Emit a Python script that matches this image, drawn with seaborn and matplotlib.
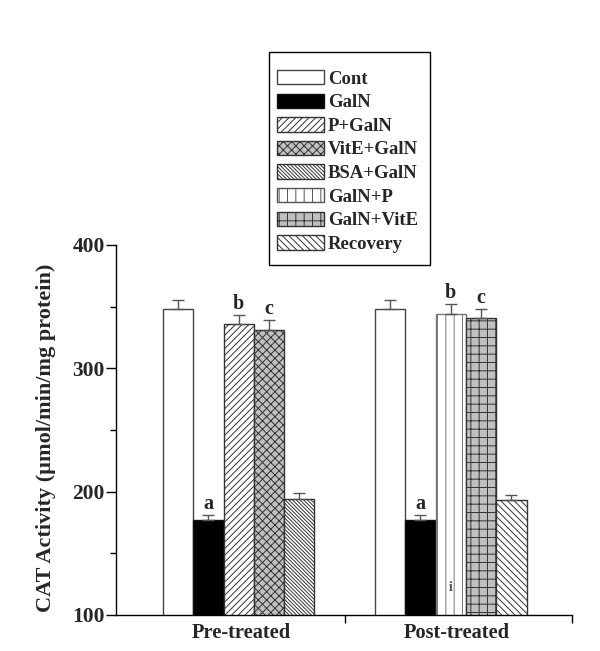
import matplotlib
matplotlib.use("Agg")
import matplotlib.pyplot as plt
import seaborn as sns
import pandas as pd
from matplotlib.patches import Patch, Rectangle

# ---- data ----
groups = ["Pre-treated", "Post-treated"]
series = ["Cont", "GalN", "P+GalN", "VitE+GalN", "BSA+GalN", "GalN+P", "GalN+VitE", "Recovery"]
pre_series = ["Cont", "GalN", "P+GalN", "VitE+GalN", "BSA+GalN"]
pre_values = [348, 177, 336, 331, 194]
pre_errors = [7, 4, 7, 8, 5]
pre_letters = ["", "a", "b", "c", ""]
post_series = ["Cont", "GalN", "GalN+P", "GalN+VitE", "Recovery"]
post_values = [348, 177, 344, 341, 193]
post_errors = [7, 4, 8, 7, 4.5]
post_letters = ["", "a", "b", "c", ""]
y_label = "CAT Activity (\u00b5mol/min/mg protein)"

# ---- styles ----
fills = {"Cont": "white", "GalN": "black", "P+GalN": "white", "VitE+GalN": "#c0c0c0",
         "BSA+GalN": "white", "GalN+P": "white", "GalN+VitE": "#c0c0c0", "Recovery": "white"}
hatches = {"Cont": "", "GalN": "", "P+GalN": "/" * 5, "VitE+GalN": "xxxx",
           "BSA+GalN": "\\" * 9, "GalN+P": "||", "GalN+VitE": "++", "Recovery": "\\" * 5}
edges = {"Cont": "#444444", "GalN": "#111111", "P+GalN": "#333333", "VitE+GalN": "#333333",
         "BSA+GalN": "#333333", "GalN+P": "#777777", "GalN+VitE": "#333333", "Recovery": "#333333"}

sns.set_style("ticks")
plt.rcParams["font.family"] = ["Liberation Serif", "DejaVu Serif"]
plt.rcParams["font.weight"] = "bold"
plt.rcParams["axes.labelweight"] = "bold"
plt.rcParams["hatch.linewidth"] = 0.7

# slot positions: pre bars 0..4, post bars 7..11
pre_pos = list(range(0, 5))
post_pos = list(range(7, 12))
df = pd.DataFrame({
    "pos": pre_pos + post_pos,
    "value": pre_values + post_values,
    "err": pre_errors + post_errors,
    "series": pre_series + post_series,
    "letter": pre_letters + post_letters,
})
pos_to_series = dict(zip(df["pos"], df["series"]))

fig = plt.figure(figsize=(6.0, 6.51), dpi=100)
ax = fig.add_axes([0.1933, 0.0553, 0.76, 0.5684])

sns.barplot(data=df, x="pos", y="value", hue="series", hue_order=series,
            palette=fills, native_scale=True, dodge=False, width=1.0,
            errorbar=None, legend=False, ax=ax, linewidth=1.0, edgecolor="#333333",
            saturation=1)

for p in ax.patches:
    c = round(p.get_x() + p.get_width() / 2)
    s = pos_to_series.get(c)
    if s is None:
        continue
    p.set_facecolor(fills[s])
    p.set_edgecolor(edges[s])
    p.set_hatch(hatches[s])
    p.set_linewidth(1.0)

ax.errorbar(df["pos"], df["value"], yerr=[[0] * len(df), df["err"]], fmt="none",
            ecolor="#555555", elinewidth=1.0, capsize=4, capthick=1.0, zorder=5)

for _, r in df.iterrows():
    if r["letter"]:
        ax.text(r["pos"], r["value"] + r["err"] + 1, r["letter"], ha="center", va="bottom",
                fontsize=14.5, fontweight="bold")

ax.text(9, 117, "i", ha="center", va="bottom", fontsize=10, color="#555555", fontweight="bold")

ax.set_xlim(-2.05, 13.0)
ax.set_ylim(100, 400)
ax.set_yticks([100, 200, 300, 400])
ax.set_yticks([150, 250, 350], minor=True)
ax.set_xticks([2.1, 9.2])
ax.set_xticklabels(groups, fontsize=14.7, fontweight="bold")
ax.set_xticks([5.5, 13.0], minor=True)
ax.tick_params(axis="x", which="major", length=0, pad=6)
ax.tick_params(axis="x", which="minor", length=5.5, width=1.0, direction="out", color="black")
ax.tick_params(axis="y", which="major", length=7, width=1.0, direction="out", pad=1,
               labelsize=15.5, color="black")
ax.tick_params(axis="y", which="minor", length=4, width=1.0, direction="out", color="black")
for lab in ax.get_yticklabels():
    lab.set_fontweight("bold")
ax.set_xlabel("")
ax.set_ylabel(y_label, fontsize=16, fontweight="bold")
ax.yaxis.set_label_coords(-0.132, 0.48)
sns.despine(ax=ax)
for sp in ["left", "bottom"]:
    ax.spines[sp].set_linewidth(1.0)
    ax.spines[sp].set_color("black")

# legend with a separately drawn frame
W, H = 600.0, 651.0
fig.patches.append(Rectangle((269 / W, 1 - 265 / H), (430 - 269) / W, (265 - 52) / H,
                             transform=fig.transFigure, fill=False, edgecolor="black",
                             linewidth=1.0))
handles = [Patch(facecolor=fills[s], edgecolor=edges[s] if s != "GalN+P" else "#555555",
                 hatch=hatches[s], linewidth=1.0, label=s) for s in series]
leg = fig.legend(handles=handles, loc="upper left", bbox_to_anchor=(277 / W, 1 - 70 / H),
                 frameon=False,
                 prop={"family": "Liberation Serif", "weight": "bold", "size": 13.5},
                 handlelength=2.5, handleheight=0.8, labelspacing=0.315,
                 handletextpad=0.22, borderpad=0, borderaxespad=0)

fig.savefig("out.png", dpi=100)
